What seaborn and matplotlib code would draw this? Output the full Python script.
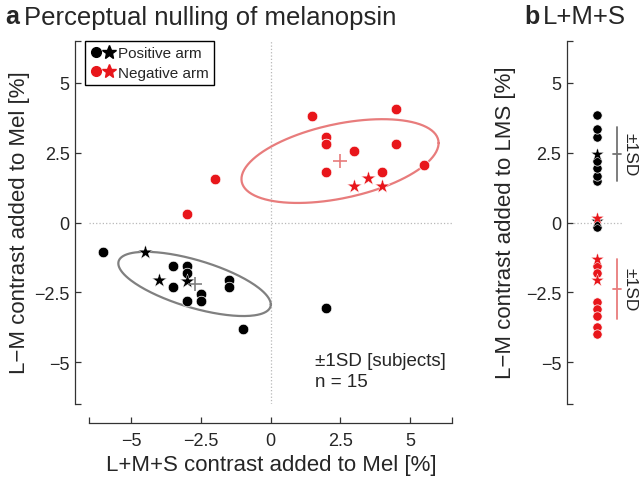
import numpy as np
import pandas as pd
import matplotlib
matplotlib.use("Agg")
import matplotlib.pyplot as plt
from matplotlib.lines import Line2D
from matplotlib.legend_handler import HandlerTuple
import seaborn as sns

# %% data
# panel a: L+M+S (x) and L-M (y) contrast added to Mel [%], one point per subject
pos_circ_x = [-6.0, -3.5, -3.0, -3.0, -3.5, -3.0, -2.5, -2.5, -1.5, -1.5, -1.0, 2.0]
pos_circ_y = [-1.05, -1.55, -1.55, -1.8, -2.3, -2.8, -2.55, -2.8, -2.05, -2.3, -3.8, -3.05]
pos_star_x = [-4.5, -4.0, -3.0]
pos_star_y = [-1.05, -2.05, -2.1]
neg_circ_x = [1.5, 4.5, 2.0, 2.0, 2.0, 3.0, 4.5, 5.5, 2.0, 4.0, -2.0, -3.0]
neg_circ_y = [3.8, 4.05, 3.05, 2.8, 2.8, 2.55, 2.8, 2.05, 1.8, 1.8, 1.55, 0.3]
neg_star_x = [3.0, 3.5, 4.0]
neg_star_y = [1.3, 1.6, 1.3]

# group mean and +-1SD ellipse: [sd x, sd y], correlation
pos_mean = [-2.72, -2.2]
pos_sd = [2.73, 1.15]
pos_rho = -0.64
neg_mean = [2.49, 2.2]
neg_sd = [3.53, 1.5]
neg_rho = 0.43

# panel b: L-M contrast added to LMS [%]
lms_pos_circ = [-0.15, 1.5, 1.65, 1.95, 2.2, 3.05, 3.35, 3.85]
lms_pos_star = [0.05, 2.45]
lms_neg_circ = [-1.55, -1.8, -2.85, -3.1, -3.35, -3.75, -4.0]
lms_neg_star = [0.15, -1.3, -2.05]
lms_pos_mean, lms_pos_sd = 2.46, 0.97
lms_neg_mean, lms_neg_sd = -2.37, 1.08

# %% style
sns.set_style("ticks")
plt.rcParams['font.family'] = ['Liberation Sans', 'DejaVu Sans']
plt.rcParams['axes.unicode_minus'] = True

RED = '#e8161b'
RED_LIGHT = '#e87c7c'
GRAY = '#808080'

fig = plt.figure(figsize=(6.4, 4.85), dpi=100)
ax = fig.add_axes([89/640, 1-405/485, 363/640, 363/485])
axb = fig.add_axes([567/640, 1-405/485, 55/640, 363/485])

ticks = [-6.5, -5, -2.5, 0, 2.5, 5, 6.5]
tick_labels = ['', '\u22125', '\u22122.5', '0', '2.5', '5', '']

# %% panel a
ax.axhline(0, ls=':', color='0.72', lw=0.9, zorder=0)
ax.axvline(0, ls=':', color='0.72', lw=0.9, zorder=0)


def ellipse(mean, sd, rho, n=200):
    t = np.linspace(0, 2*np.pi, n)
    x = mean[0] + sd[0]*np.cos(t)
    y = mean[1] + sd[1]*(rho*np.cos(t) + np.sqrt(1-rho**2)*np.sin(t))
    return x, y

ex, ey = ellipse(pos_mean, pos_sd, pos_rho)
ax.plot(ex, ey, color=GRAY, lw=1.6)
ex, ey = ellipse(neg_mean, neg_sd, neg_rho)
ax.plot(ex, ey, color=RED_LIGHT, lw=1.6)

sns.scatterplot(x=neg_circ_x, y=neg_circ_y, color=RED, marker='o', s=58,
                edgecolor='white', linewidth=0.5, ax=ax, zorder=3)
sns.scatterplot(x=neg_star_x, y=neg_star_y, color=RED, marker='*', s=120,
                edgecolor='white', linewidth=0.3, ax=ax, zorder=3)
sns.scatterplot(x=pos_circ_x, y=pos_circ_y, color='k', marker='o', s=58,
                edgecolor='white', linewidth=0.5, ax=ax, zorder=3)
sns.scatterplot(x=pos_star_x, y=pos_star_y, color='k', marker='*', s=120,
                edgecolor='white', linewidth=0.3, ax=ax, zorder=3)

ax.plot(*pos_mean, marker='+', ms=10, mew=1.2, color=GRAY, zorder=4)
ax.plot(*neg_mean, marker='+', ms=10, mew=1.2, color=RED_LIGHT, zorder=4)

ax.text(1.6, -4.95, '\u00b11SD [subjects]', fontsize=13.5, va='center', ha='left')
ax.text(1.6, -5.7, 'n = 15', fontsize=13.5, va='center', ha='left')

ax.set_xlim(-6.5, 6.5)
ax.set_ylim(-6.5, 6.5)
ax.set_xticks(ticks)
ax.set_xticklabels(tick_labels)
ax.set_yticks(ticks)
ax.set_yticklabels(tick_labels)
ax.tick_params(direction='in', length=4, width=0.9, labelsize=13, color='0.2')
ax.tick_params(axis='x', pad=6)
ax.tick_params(axis='y', pad=4)
sns.despine(ax=ax, offset={'left': 10, 'bottom': 14})
for sp in ['left', 'bottom']:
    ax.spines[sp].set_color('0.2')
    ax.spines[sp].set_linewidth(0.9)

handles = [(Line2D([], [], marker='o', ls='', color='k', ms=7),
            Line2D([], [], marker='*', ls='', color='k', ms=10)),
           (Line2D([], [], marker='o', ls='', color=RED, ms=7),
            Line2D([], [], marker='*', ls='', color=RED, ms=10))]
leg = ax.legend(handles, ['Positive arm', 'Negative arm'],
                handler_map={tuple: HandlerTuple(ndivide=None, pad=0.2)},
                loc='upper left', bbox_to_anchor=(-0.01, 1.0), borderaxespad=0,
                fontsize=11, fancybox=False, framealpha=1, borderpad=0.35,
                handlelength=1.5, handletextpad=0.3, labelspacing=0.35)
leg.get_frame().set_edgecolor('k')
leg.get_frame().set_linewidth(1.0)

fig.text(271/640, 1-466/485, 'L+M+S contrast added to Mel [%]', fontsize=16,
         ha='center', va='center')
fig.text(20/640, 1-223/485, 'L\u2212M contrast added to Mel [%]', fontsize=16,
         ha='center', va='center', rotation=90)

# %% panel b
axb.axhline(0, ls=':', color='0.72', lw=0.9, zorder=0)
bx = 0.55
sns.scatterplot(x=[bx]*len(lms_pos_circ), y=lms_pos_circ, color='k', marker='o', s=45,
                edgecolor='white', linewidth=0.5, ax=axb, zorder=3, clip_on=False)
sns.scatterplot(x=[bx]*len(lms_pos_star), y=lms_pos_star, color='k', marker='*', s=95,
                edgecolor='white', linewidth=0.3, ax=axb, zorder=3, clip_on=False)
sns.scatterplot(x=[bx]*len(lms_neg_circ), y=lms_neg_circ, color=RED, marker='o', s=45,
                edgecolor='white', linewidth=0.5, ax=axb, zorder=3, clip_on=False)
sns.scatterplot(x=[bx]*len(lms_neg_star), y=lms_neg_star, color=RED, marker='*', s=95,
                edgecolor='white', linewidth=0.3, ax=axb, zorder=3, clip_on=False)

for m, sd, c in [(lms_pos_mean, lms_pos_sd, '0.45'), (lms_neg_mean, lms_neg_sd, RED_LIGHT)]:
    axb.plot([0.91, 0.91], [m - sd, m + sd], color=c, lw=1.3, clip_on=False)
    axb.plot([0.83, 0.99], [m, m], color=c, lw=1.3, clip_on=False)
    axb.text(1.14, m, '\u00b11SD', rotation=-90, fontsize=12.5,
             ha='center', va='center', clip_on=False)

axb.set_xlim(0, 1)
axb.set_ylim(-6.5, 6.5)
axb.set_yticks(ticks)
axb.set_yticklabels(tick_labels)
axb.set_xticks([])
axb.tick_params(direction='in', length=4, width=0.9, labelsize=13, color='0.2', pad=4)
sns.despine(ax=axb, bottom=True)
axb.spines['left'].set_color('0.2')
axb.spines['left'].set_linewidth(0.9)

fig.text(505/640, 1-223/485, 'L\u2212M contrast added to LMS [%]', fontsize=16,
         ha='center', va='center', rotation=90)

# titles
fig.text(5/640, 1-24.5/485, 'a', fontsize=18, fontweight='bold', va='baseline')
fig.text(24/640, 1-24.5/485, 'Perceptual nulling of melanopsin', fontsize=18.5, va='baseline')
fig.text(524/640, 1-24.5/485, 'b', fontsize=18, fontweight='bold', va='baseline')
fig.text(543/640, 1-24.5/485, 'L+M+S', fontsize=18.5, va='baseline')

fig.savefig('out.png', dpi=100)
